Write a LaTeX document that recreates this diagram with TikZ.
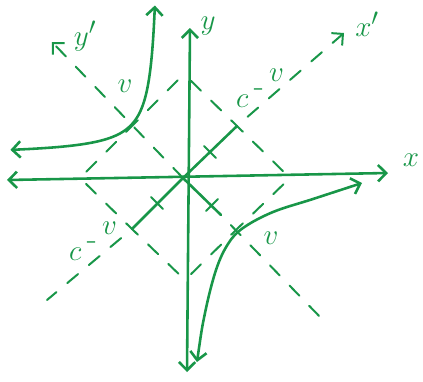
\documentclass[tikz,border=0pt]{standalone}
\usepackage{amsmath}
\usepackage{tikz}
\usetikzlibrary{arrows.meta}

\definecolor{marker}{RGB}{24,150,72}
\newcommand{\cvlabel}{$c$\,\raisebox{9pt}{-}\,\raisebox{22pt}{$v$}}

\begin{document}
\begin{tikzpicture}[
    x=0.03cm, y=0.03cm,
    pen/.style={draw=marker, line width=2.2pt, line cap=round},
    thinpen/.style={draw=marker, line width=1.7pt, line cap=round},
    guide/.style={thinpen, dash pattern=on 12pt off 12pt},
    fromgap/.style={dash phase=12pt},
    halfdash/.style={dash phase=5pt},
    arr/.style={-{Straight Barb[length=7pt, width=14pt]}},
    twoway/.style={{Straight Barb[length=7pt, width=14pt]}-{Straight Barb[length=7pt, width=14pt]}},
    lbl/.style={text=marker, font=\fontsize{28}{30}\selectfont, inner sep=1pt}
]
\useasboundingbox (-183,-203) rectangle (240,178);

% axes
\coordinate (O) at (0,0);
\coordinate (xl) at (-176,-2);
\coordinate (xr) at (205,5);
\coordinate (yt) at (7,150);
\coordinate (yb) at (4,-194);
% rotated axes
\coordinate (xpl) at (-136,-122);
\coordinate (xpt) at (161,145);
\coordinate (ypt) at (-131,136);
\coordinate (ypl) at (140,-142);
% square through the marked points
\coordinate (T) at (1,104);
\coordinate (R) at (107,0);
\coordinate (B) at (2,-102);
\coordinate (L) at (-103,0);
\coordinate (C1) at (54,52);
\coordinate (C2) at (-51,-51);
\coordinate (V1) at (-51,52);
\coordinate (V2) at (54,-51);
\coordinate (H1) at (27,26);
\coordinate (H2) at (-26,-25);
\coordinate (H3) at (29,-27);
\coordinate (S3) at (38,-37);

\draw[pen, twoway] (xl) -- (xr);
\draw[pen, twoway] (yb) -- (yt);
\draw[pen] (C2) -- (O) -- (C1);
\draw[pen] (O) -- (S3);
\draw[guide, fromgap, arr] (C1) -- (xpt);
\draw[guide, fromgap] (C2) -- (xpl);
\draw[guide, arr] (O) -- (ypt);
\draw[guide, fromgap] (S3) -- (ypl);
\foreach \m/\a/\b in {C1/T/R, C2/L/B, V1/L/T, V2/R/B} {
  \draw[guide, halfdash] (\m) -- (\a);
  \draw[guide, halfdash] (\m) -- (\b);
}
\foreach \p in {H1, H2} \draw[thinpen] (\p) ++(-6,6) -- ++(12,-12);
\draw[thinpen] (H3) ++(-6,-6) -- ++(12,12);

% hyperbola
\draw[pen, twoway, domain=1.6:-1.6, samples=60, smooth] plot ({-22-30.4*exp(\x)}, {22+30.4*exp(-\x)});
\draw[pen, twoway] plot[smooth, tension=0.6] coordinates {(14,-184) (22,-135) (33,-92) (45,-66) (60,-50) (90,-34) (130,-21) (179,-5)};

\node[lbl] (ylab) at (25,152) {$y$};
\node[lbl] (xlab) at (228,18) {$x$};
\node[lbl] (xplab) at (184,154) {$x'$};
\node[lbl] (yplab) at (-98,142) {$y'$};
\node[lbl] (v1) at (-58,92) {$v$};
\node[lbl] (v2) at (88,-60) {$v$};
\node[lbl] (cv1) at (77,90) {\cvlabel};
\node[lbl] (cv2) at (-90,-63) {\cvlabel};
\end{tikzpicture}
\end{document}
